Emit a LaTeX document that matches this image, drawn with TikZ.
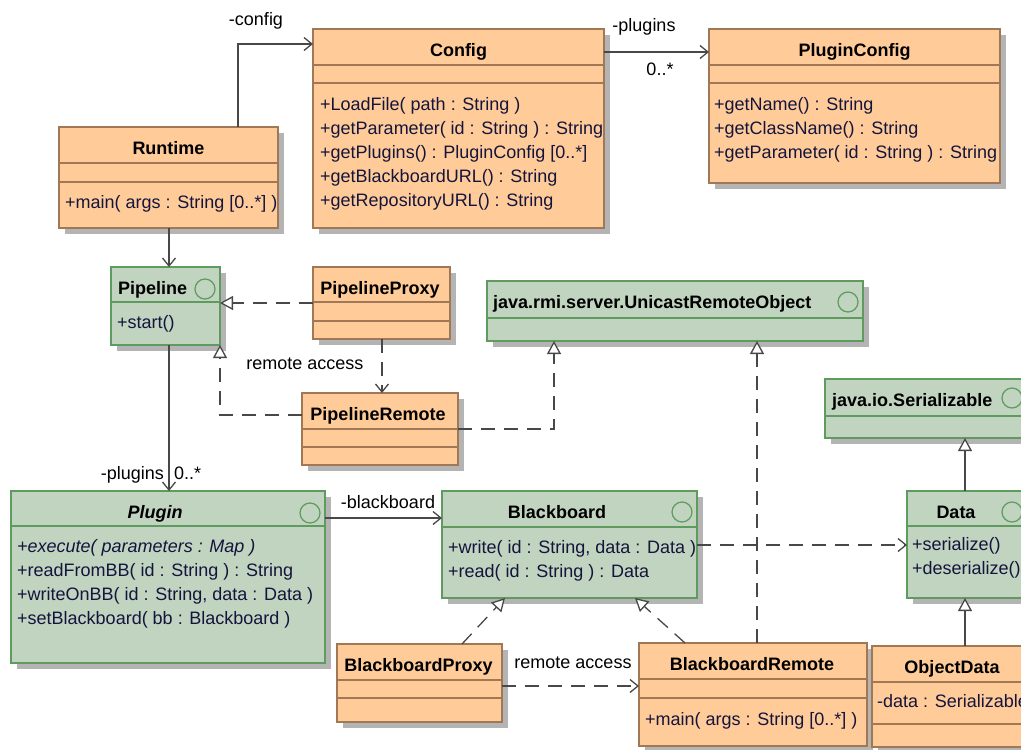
\documentclass[tikz,border=0pt]{standalone}
\usepackage{fontspec}
\setmainfont{Liberation Sans}
\usetikzlibrary{arrows.meta,shadows}

\definecolor{orangefill}{RGB}{255,204,153}
\definecolor{orangeline}{RGB}{160,120,85}
\definecolor{greenfill}{RGB}{192,212,192}
\definecolor{greenline}{RGB}{95,155,95}
\definecolor{shadowgray}{RGB}{180,180,180}
\definecolor{wire}{RGB}{72,72,72}
\definecolor{optext}{RGB}{20,20,60}

% horizontal compartment separator inside a class box
\newcommand\compline[3]{\draw[#3, line width=1.2pt]
  ([yshift=-#2pt]#1.north west) -- ([yshift=-#2pt]#1.north east);}

\tikzset{
  umlfont/.style={font=\fontsize{18}{24}\selectfont},
  box/.style={anchor=north west, inner sep=0pt, outer sep=0pt, line width=1.3pt,
    drop shadow={shadow xshift=6pt, shadow yshift=-6pt, fill=shadowgray, opacity=1}},
  cls/.style={box, draw=orangeline, fill=orangefill},
  ifc/.style={box, draw=greenline, fill=greenfill},
  title/.style={font=\fontsize{18}{24}\selectfont\bfseries, anchor=base, inner sep=0pt, text=black},
  ltitle/.style={title, anchor=base west},
  op/.style={umlfont, anchor=base west, inner sep=0pt, text=optext},
  lbl/.style={umlfont, anchor=base, inner sep=0pt, text=black},
  ball/.style={draw=greenline, line width=1.2pt},
  assoc/.style={draw=wire, line width=1.3pt, -{Straight Barb[length=8pt,width=13pt]}},
  dep/.style={assoc, dash pattern=on 14pt off 9pt},
  real/.style={draw=wire, line width=1.3pt, dash pattern=on 14pt off 9pt,
    -{Triangle[length=13pt,width=14pt,fill=white]}},
  gen/.style={draw=wire, line width=1.3pt, -{Triangle[length=13pt,width=14pt,fill=white]}},
}

\begin{document}
\begin{tikzpicture}[x=1pt, y=-1pt]
\useasboundingbox (0,0) rectangle (1021,750);
\clip (0,0) rectangle (1021,750);

% ---------- classes ----------
\node[cls, minimum width=219pt, minimum height=101pt] (runtime) at (59,127) {};
\compline{runtime}{36}{orangeline}\compline{runtime}{55}{orangeline}
\node[title] (runtime-t) at (168.5,154) {Runtime};
\node[op] (runtime-o1) at (65,208) {+main( args : String [0..*] )};

\node[cls, minimum width=291pt, minimum height=199pt] (config) at (313,29) {};
\compline{config}{36}{orangeline}\compline{config}{54}{orangeline}
\node[title] (config-t) at (458.5,56) {Config};
\node[op] (config-o1) at (320,110) {+LoadFile( path : String )};
\node[op] (config-o2) at (320,134) {+getParameter( id : String ) : String};
\node[op] (config-o3) at (320,158) {+getPlugins() : PluginConfig [0..*]};
\node[op] (config-o4) at (320,182) {+getBlackboardURL() : String};
\node[op] (config-o5) at (320,206) {+getRepositoryURL() : String};

\node[cls, minimum width=291pt, minimum height=154pt] (pluginconfig) at (709,29) {};
\compline{pluginconfig}{36}{orangeline}\compline{pluginconfig}{54}{orangeline}
\node[title] (pluginconfig-t) at (854.5,56) {PluginConfig};
\node[op] (pluginconfig-o1) at (714,110) {+getName() : String};
\node[op] (pluginconfig-o2) at (714,134) {+getClassName() : String};
\node[op] (pluginconfig-o3) at (714,158) {+getParameter( id : String ) : String};

\node[ifc, minimum width=109pt, minimum height=78pt] (pipeline) at (111,267) {};
\compline{pipeline}{35}{greenline}
\node[ltitle] (pipeline-t) at (118,294) {Pipeline};
\draw[ball] (205,289) circle[radius=10pt];
\node[op] (pipeline-o1) at (117,328) {+start()};

\node[cls, minimum width=137pt, minimum height=72pt] (pipelineproxy) at (313,267) {};
\compline{pipelineproxy}{35}{orangeline}\compline{pipelineproxy}{54}{orangeline}
\node[title] (pipelineproxy-t) at (380,294) {PipelineProxy};

\node[cls, minimum width=156pt, minimum height=72pt] (pipelineremote) at (302,393) {};
\compline{pipelineremote}{36}{orangeline}\compline{pipelineremote}{54}{orangeline}
\node[title] (pipelineremote-t) at (378,420) {PipelineRemote};

\node[ifc, minimum width=376pt, minimum height=60pt] (unicast) at (487,281) {};
\compline{unicast}{37}{greenline}
\node[ltitle] (unicast-t) at (493,308) {java.rmi.server.UnicastRemoteObject};
\draw[ball] (848,302) circle[radius=10pt];

\node[ifc, minimum width=210pt, minimum height=59pt] (serializable) at (825,379) {};
\compline{serializable}{37}{greenline}
\node[ltitle] (serializable-t) at (832,406) {java.io.Serializable};
\draw[ball] (1012,398) circle[radius=10pt];

\node[ifc, minimum width=125pt, minimum height=107pt] (data) at (907,491) {};
\compline{data}{35}{greenline}
\node[title] (data-t) at (956,518) {Data};
\draw[ball] (1012,512) circle[radius=10pt];
\node[op] (data-o1) at (912,550) {+serialize()};
\node[op] (data-o2) at (912,574) {+deserialize()};

\node[ifc, minimum width=314pt, minimum height=172pt] (plugin) at (11,491) {};
\compline{plugin}{35}{greenline}
\node[title, font=\fontsize{18}{24}\selectfont\bfseries\itshape] (plugin-t) at (155,518) {Plugin};
\draw[ball] (310,513) circle[radius=10pt];
\node[op, font=\fontsize{18}{24}\selectfont\itshape] (plugin-o1) at (17,552) {+execute( parameters : Map )};
\node[op] (plugin-o2) at (17,576) {+readFromBB( id : String ) : String};
\node[op] (plugin-o3) at (17,600) {+writeOnBB( id : String, data : Data )};
\node[op] (plugin-o4) at (17,624) {+setBlackboard( bb : Blackboard )};

\node[ifc, minimum width=255pt, minimum height=107pt] (blackboard) at (442,491) {};
\compline{blackboard}{36}{greenline}
\node[title] (blackboard-t) at (557,518) {Blackboard};
\draw[ball] (682,512) circle[radius=10pt];
\node[op] (blackboard-o1) at (448,553) {+write( id : String, data : Data )};
\node[op] (blackboard-o2) at (448,577) {+read( id : String ) : Data};

\node[cls, minimum width=165pt, minimum height=78pt] (bbproxy) at (337,644) {};
\compline{bbproxy}{36}{orangeline}\compline{bbproxy}{54}{orangeline}
\node[title] (bbproxy-t) at (418.5,671) {BlackboardProxy};

\node[cls, minimum width=228pt, minimum height=103pt] (bbremote) at (639,643) {};
\compline{bbremote}{36}{orangeline}\compline{bbremote}{55}{orangeline}
\node[title] (bbremote-t) at (752,670) {BlackboardRemote};
\node[op] (bbremote-o1) at (645,725) {+main( args : String [0..*] )};

\node[cls, minimum width=180pt, minimum height=101pt] (objectdata) at (872,646) {};
\compline{objectdata}{36}{orangeline}\compline{objectdata}{78}{orangeline}
\node[title] (objectdata-t) at (952,673) {ObjectData};
\node[op] (objectdata-o1) at (877,707) {-data : Serializable};

% ---------- associations ----------
\draw[assoc] ([xshift=179pt]runtime.north west) |- ([yshift=-15pt]config.north west);
\node[lbl] (lbl-config) at (256,25) {-config};

\draw[assoc] ([yshift=-23pt]config.north east) -- ([yshift=-23pt]pluginconfig.north west);
\node[lbl] (lbl-plugins1) at (644,31) {-plugins};
\node[lbl] (lbl-mult1) at (660,75) {0..*};

\draw[assoc] ([xshift=110pt]runtime.south west) -- ([xshift=110pt]runtime.south west |- pipeline.north);

\draw[assoc] ([xshift=58pt]pipeline.south west) -- ([xshift=58pt]pipeline.south west |- plugin.north);
\node[lbl, anchor=base east] (lbl-plugins2) at (164,479) {-plugins};
\node[lbl, anchor=base west] (lbl-mult2) at (174,479) {0..*};

\draw[assoc] ([yshift=-27pt]plugin.north east) -- ([yshift=-27pt]plugin.north east -| blackboard.west);
\node[lbl] (lbl-bb) at (388,508) {-blackboard};

% ---------- realizations and dependencies ----------
\draw[real] ([yshift=-36pt]pipelineproxy.north west) -- ([yshift=-36pt]pipelineproxy.north west -| pipeline.east);
\draw[real] ([yshift=-22pt]pipelineremote.north west) -| (pipeline.south east);
\draw[dep] ([xshift=69pt]pipelineproxy.south west) -- ([xshift=69pt]pipelineproxy.south west |- pipelineremote.north);
\node[lbl] (lbl-remote1) at (305,369) {remote access};

\draw[real] ([yshift=-36pt]pipelineremote.north east) -| ([xshift=67pt]unicast.south west);
\draw[real] ([xshift=118pt]bbremote.north west) -- ([xshift=118pt]bbremote.north west |- unicast.south);

\draw[dep] ([yshift=-54pt]blackboard.north east) -- ([yshift=-54pt]blackboard.north east -| data.west);
\draw[gen] ([xshift=58pt]data.north west) -- ([xshift=58pt]data.north west |- serializable.south);
\draw[gen] ([xshift=93pt]objectdata.north west) -- ([xshift=93pt]objectdata.north west |- data.south);

\draw[real] ([xshift=125pt]bbproxy.north west) -- ([xshift=63pt]blackboard.south west);
\draw[real] ([xshift=46pt]bbremote.north west) -- ([xshift=193pt]blackboard.south west);
\draw[dep] ([yshift=-42pt]bbproxy.north east) -- ([yshift=-42pt]bbproxy.north east -| bbremote.west);
\node[lbl] (lbl-remote2) at (573,668) {remote access};
\end{tikzpicture}
\end{document}
